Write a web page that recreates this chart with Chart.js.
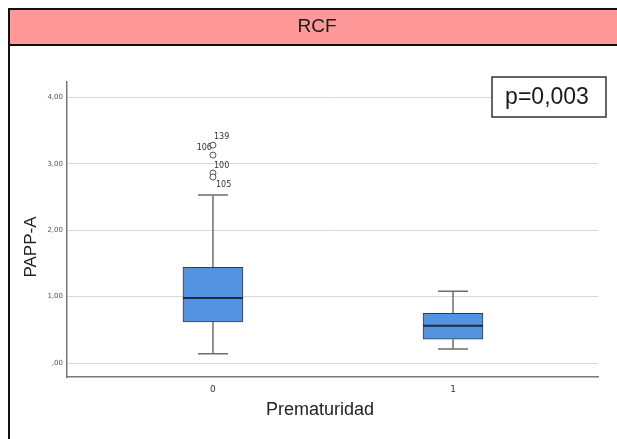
<!DOCTYPE html>
<html>
<head>
<meta charset="utf-8">
<script src="https://cdn.jsdelivr.net/npm/chart.js@4/dist/chart.umd.min.js"></script>
<style>
  html, body { margin: 0; padding: 0; background: #fff; }
</style>
</head>
<body>
<canvas id="boxChart" width="617" height="439"></canvas>
<script>
// Box plot summary for PAPP-A by Prematuridad
const categories = [0, 1];
const tickLabels = ['0', '1'];
const whiskerLow = [0.14, 0.21];
const q1 = [0.62, 0.36];
const median = [0.98, 0.56];
const q3 = [1.44, 0.75];
const whiskerHigh = [2.53, 1.08];

// Outliers
const outlierValues = [3.28, 3.13, 2.86, 2.80];
const outlierGroup = [0, 0, 0, 0];
const outlierIds = ['139', '106', '100', '105'];

const yTicks = [0, 1, 2, 3, 4];

// label placement next to each outlier circle
const labelOffsets = [[1, -8, 'left'], [-1, -7, 'right'], [1, -7, 'left'], [3, 8, 'left']];

function fmtTick(v) {
    if (v === 0) return ',00';
    return v.toFixed(2).replace('.', ',');
}

// whiskers, medians and outlier labels
const boxParts = {
    id: 'boxParts',
    beforeDatasetsDraw(chart) {
        const { ctx, scales: { x, y } } = chart;
        ctx.save();
        ctx.strokeStyle = '#6e6e6e';
        ctx.lineWidth = 1.5;
        categories.forEach((c, i) => {
            const px = x.getPixelForValue(c);
            ctx.beginPath();
            ctx.moveTo(px, y.getPixelForValue(whiskerLow[i]));
            ctx.lineTo(px, y.getPixelForValue(q1[i]));
            ctx.moveTo(px, y.getPixelForValue(q3[i]));
            ctx.lineTo(px, y.getPixelForValue(whiskerHigh[i]));
            [whiskerLow[i], whiskerHigh[i]].forEach(v => {
                const py = y.getPixelForValue(v);
                ctx.moveTo(px - 15, py);
                ctx.lineTo(px + 15, py);
            });
            ctx.stroke();
        });
        ctx.restore();
    },
    afterDatasetsDraw(chart) {
        const { ctx, scales: { x, y } } = chart;
        const bars = chart.getDatasetMeta(0).data;
        ctx.save();
        ctx.strokeStyle = '#1c2b40';
        ctx.lineWidth = 2;
        categories.forEach((c, i) => {
            const half = bars[i].width / 2;
            const py = y.getPixelForValue(median[i]);
            ctx.beginPath();
            ctx.moveTo(bars[i].x - half, py);
            ctx.lineTo(bars[i].x + half, py);
            ctx.stroke();
        });
        ctx.fillStyle = '#333';
        ctx.font = '8px "DejaVu Sans"';
        ctx.textBaseline = 'middle';
        outlierValues.forEach((v, i) => {
            const px = x.getPixelForValue(categories[outlierGroup[i]]);
            const py = y.getPixelForValue(v);
            const [dx, dy, align] = labelOffsets[i];
            ctx.textAlign = align;
            ctx.fillText(outlierIds[i], px + dx, py + dy);
        });
        ctx.restore();
    }
};

// frame, pink header, axis titles and p-value box
const frame = {
    id: 'frame',
    beforeDraw(chart) {
        const { ctx } = chart;
        ctx.save();
        ctx.fillStyle = '#fff';
        ctx.fillRect(0, 0, chart.width, chart.height);
        ctx.restore();
    },
    afterDraw(chart) {
        const { ctx } = chart;
        ctx.save();
        ctx.fillStyle = '#ff9999';
        ctx.fillRect(9, 9, chart.width - 9, 36);
        ctx.strokeStyle = '#111';
        ctx.lineWidth = 2;
        ctx.beginPath();
        ctx.moveTo(8, 9); ctx.lineTo(chart.width, 9);
        ctx.moveTo(8, 45); ctx.lineTo(chart.width, 45);
        ctx.moveTo(9, 8); ctx.lineTo(9, chart.height);
        ctx.stroke();
        ctx.fillStyle = '#1a1a1a';
        ctx.font = '19px "Liberation Sans"';
        ctx.textAlign = 'center';
        ctx.textBaseline = 'middle';
        ctx.fillText('RCF', 317, 27);

        // axis titles sit off-centre in the original, so they are placed by hand
        ctx.fillStyle = '#222';
        ctx.font = '18px "Liberation Sans"';
        ctx.fillText('Prematuridad', 320, 410);
        ctx.save();
        ctx.translate(31, 247);
        ctx.rotate(-Math.PI / 2);
        ctx.font = '17px "Liberation Sans"';
        ctx.fillText('PAPP-A', 0, 0);
        ctx.restore();

        ctx.fillStyle = '#fff';
        ctx.fillRect(492, 77, 114, 40);
        ctx.strokeStyle = '#333';
        ctx.lineWidth = 1.5;
        ctx.strokeRect(492, 77, 114, 40);
        ctx.fillStyle = '#1a1a1a';
        ctx.font = '23px "Liberation Sans"';
        ctx.fillText('p=0,003', 547, 98);
        ctx.restore();
    }
};

const ctx = document.getElementById('boxChart').getContext('2d');
const boxChart = new Chart(ctx, {
    type: 'bar',
    data: {
        datasets: [{
            type: 'bar',
            data: categories.map((c, i) => ({ x: c, y: [q1[i], q3[i]] })),
            backgroundColor: '#5493e0',
            borderColor: '#3c3c3c',
            borderWidth: 1,
            borderSkipped: false,
            barThickness: 60,
            order: 2
        }, {
            type: 'scatter',
            data: outlierValues.map((v, i) => ({ x: categories[outlierGroup[i]], y: v })),
            pointRadius: 3,
            pointBackgroundColor: '#fff',
            pointBorderColor: '#555',
            pointBorderWidth: 1,
            order: 1
        }]
    },
    options: {
        responsive: false,
        animation: false,
        devicePixelRatio: 1,
        layout: { padding: { left: 10, top: 82, right: 19, bottom: 12 } },
        plugins: { legend: { display: false }, tooltip: { enabled: false } },
        scales: {
            x: {
                type: 'linear',
                min: -0.608,
                max: 1.604,
                offset: false,
                afterBuildTicks: s => { s.ticks = categories.map(v => ({ value: v })); },
                afterFit: s => { s.height = 50; },
                ticks: {
                    callback: v => tickLabels[categories.indexOf(v)],
                    font: { size: 9, family: 'DejaVu Sans' },
                    color: '#333',
                    padding: 7
                },
                grid: { display: false, drawTicks: false, offset: false },
                border: { color: '#777', width: 1.5 }
            },
            y: {
                min: -0.21,
                max: 4.23,
                afterBuildTicks: s => { s.ticks = yTicks.map(v => ({ value: v })); },
                afterFit: s => { s.width = 57; },
                ticks: {
                    callback: v => fmtTick(v),
                    font: { size: 7, family: 'DejaVu Sans' },
                    color: '#555',
                    padding: 4
                },
                grid: { color: '#d8d8d8', drawTicks: false, lineWidth: 1 },
                border: { color: '#777', width: 1.5 }
            }
        }
    },
    plugins: [frame, boxParts]
});
</script>
</body>
</html>
